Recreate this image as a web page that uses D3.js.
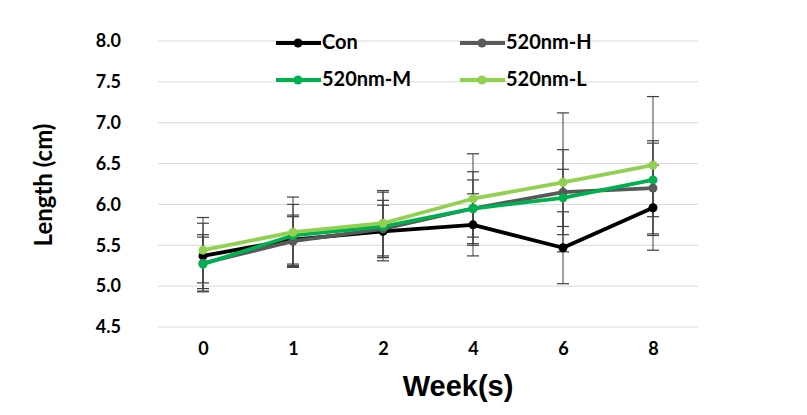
<!DOCTYPE html>
<html><head><meta charset="utf-8">
<script src="https://cdn.jsdelivr.net/npm/d3@7"></script>
<style>body{margin:0;background:#fff}</style>
</head><body>
<svg id="c" width="807" height="415"></svg>
<script>
const weeks = ["0","1","2","4","6","8"];
const seriesNames = ["Con","520nm-H","520nm-M","520nm-L"];
const con  = [5.37,5.57,5.67,5.75,5.47,5.96];
const h520 = [5.28,5.55,5.70,5.95,6.15,6.20];
const m520 = [5.27,5.62,5.73,5.95,6.08,6.30];
const l520 = [5.44,5.66,5.77,6.07,6.27,6.48];
const conErr = [0.40,0.30,0.32,0.38,0.44,0.52];
const hErr   = [0.35,0.30,0.35,0.45,0.52,0.58];
const mErr   = [0.33,0.38,0.42,0.35,0.35,0.45];
const lErr   = [0.40,0.43,0.40,0.55,0.85,0.84];
const yTicks = [4.5,5.0,5.5,6.0,6.5,7.0,7.5,8.0];
const colors = ["#000000","#595959","#00b050","#92d050"];

const values = [con,h520,m520,l520];
const errs = [conErr,hErr,mErr,lErr];

const svg = d3.select("#c");
const pLeft = 158, pRight = 698, pTop = 41, pBottom = 327;
const x = d3.scalePoint().domain(weeks).range([pLeft, pRight]).padding(0.5);
const y = d3.scaleLinear().domain([4.5, 8.0]).range([pBottom, pTop]);
const font = "Lato, 'Open Sans', sans-serif";

svg.append("g").selectAll("line").data(yTicks).join("line")
  .attr("x1", pLeft).attr("x2", pRight)
  .attr("y1", d => y(d)).attr("y2", d => y(d))
  .attr("stroke", "#d9d9d9").attr("stroke-width", 1);

const yAxis = d3.axisLeft(y).tickValues(yTicks).tickFormat(d3.format(".1f")).tickSize(0).tickPadding(0);
const ya = svg.append("g").attr("transform", `translate(${pLeft-37},0)`).call(yAxis);
ya.select(".domain").remove();
ya.selectAll("text").attr("font-family",font).attr("font-weight","bold")
  .attr("font-size","18px").attr("fill","#000").attr("text-anchor","end");

const xAxis = d3.axisBottom(x).tickSize(0).tickPadding(0);
const xa = svg.append("g").attr("transform", `translate(0,${pBottom+15})`).call(xAxis);
xa.select(".domain").remove();
xa.selectAll("text").attr("font-family",font).attr("font-weight","bold")
  .attr("font-size","18px").attr("fill","#000");

svg.append("text").attr("transform","translate(46,185) rotate(-90)").attr("text-anchor","middle")
  .attr("font-family",font).attr("font-weight","bold").attr("font-size","24px")
  .attr("dominant-baseline","middle").text("Length (cm)");
svg.append("text").attr("x", 458).attr("y", 396).attr("text-anchor","middle")
  .attr("font-family","'Liberation Sans', Arial, sans-serif").attr("font-weight","bold").attr("font-size","29px")
  .text("Week(s)");

values.forEach((vals, si) => {
  const g = svg.append("g");
  weeks.forEach((w, i) => {
    const cx = x(w), hi = y(vals[i] + errs[si][i]), lo = y(vals[i] - errs[si][i]);
    g.append("line").attr("x1",cx).attr("x2",cx).attr("y1",hi).attr("y2",lo).attr("stroke","#404040").attr("stroke-width",1);
    [hi, lo].forEach(yy => g.append("line").attr("x1",cx-6).attr("x2",cx+6).attr("y1",yy).attr("y2",yy).attr("stroke","#404040").attr("stroke-width",1.2));
  });
});

const line = d3.line().x((d,i) => x(weeks[i])).y(d => y(d));
[0,1,2,3].forEach(si => {
  svg.append("path").datum(values[si]).attr("d", line).attr("fill","none")
    .attr("stroke", colors[si]).attr("stroke-width", 3.8).attr("stroke-linejoin","round");
  svg.append("g").selectAll("circle").data(values[si]).join("circle")
    .attr("cx",(d,i)=>x(weeks[i])).attr("cy",d=>y(d)).attr("r",4.5).attr("fill",colors[si]);
});

const legPos = [[276,43],[460,43],[276,80],[460,80]];
seriesNames.forEach((n, si) => {
  const [lx, ly] = legPos[si];
  const g = svg.append("g").attr("transform", `translate(${lx},${ly})`);
  g.append("line").attr("x1",0).attr("x2",45).attr("y1",0).attr("y2",0).attr("stroke",colors[si]).attr("stroke-width",3.8);
  g.append("circle").attr("cx",22).attr("cy",0).attr("r",4.5).attr("fill",colors[si]);
  g.append("text").attr("x",46).attr("y",1).attr("dominant-baseline","middle")
    .attr("font-family",font).attr("font-weight","bold").attr("font-size","20px").text(n);
});
</script>
</body></html>
